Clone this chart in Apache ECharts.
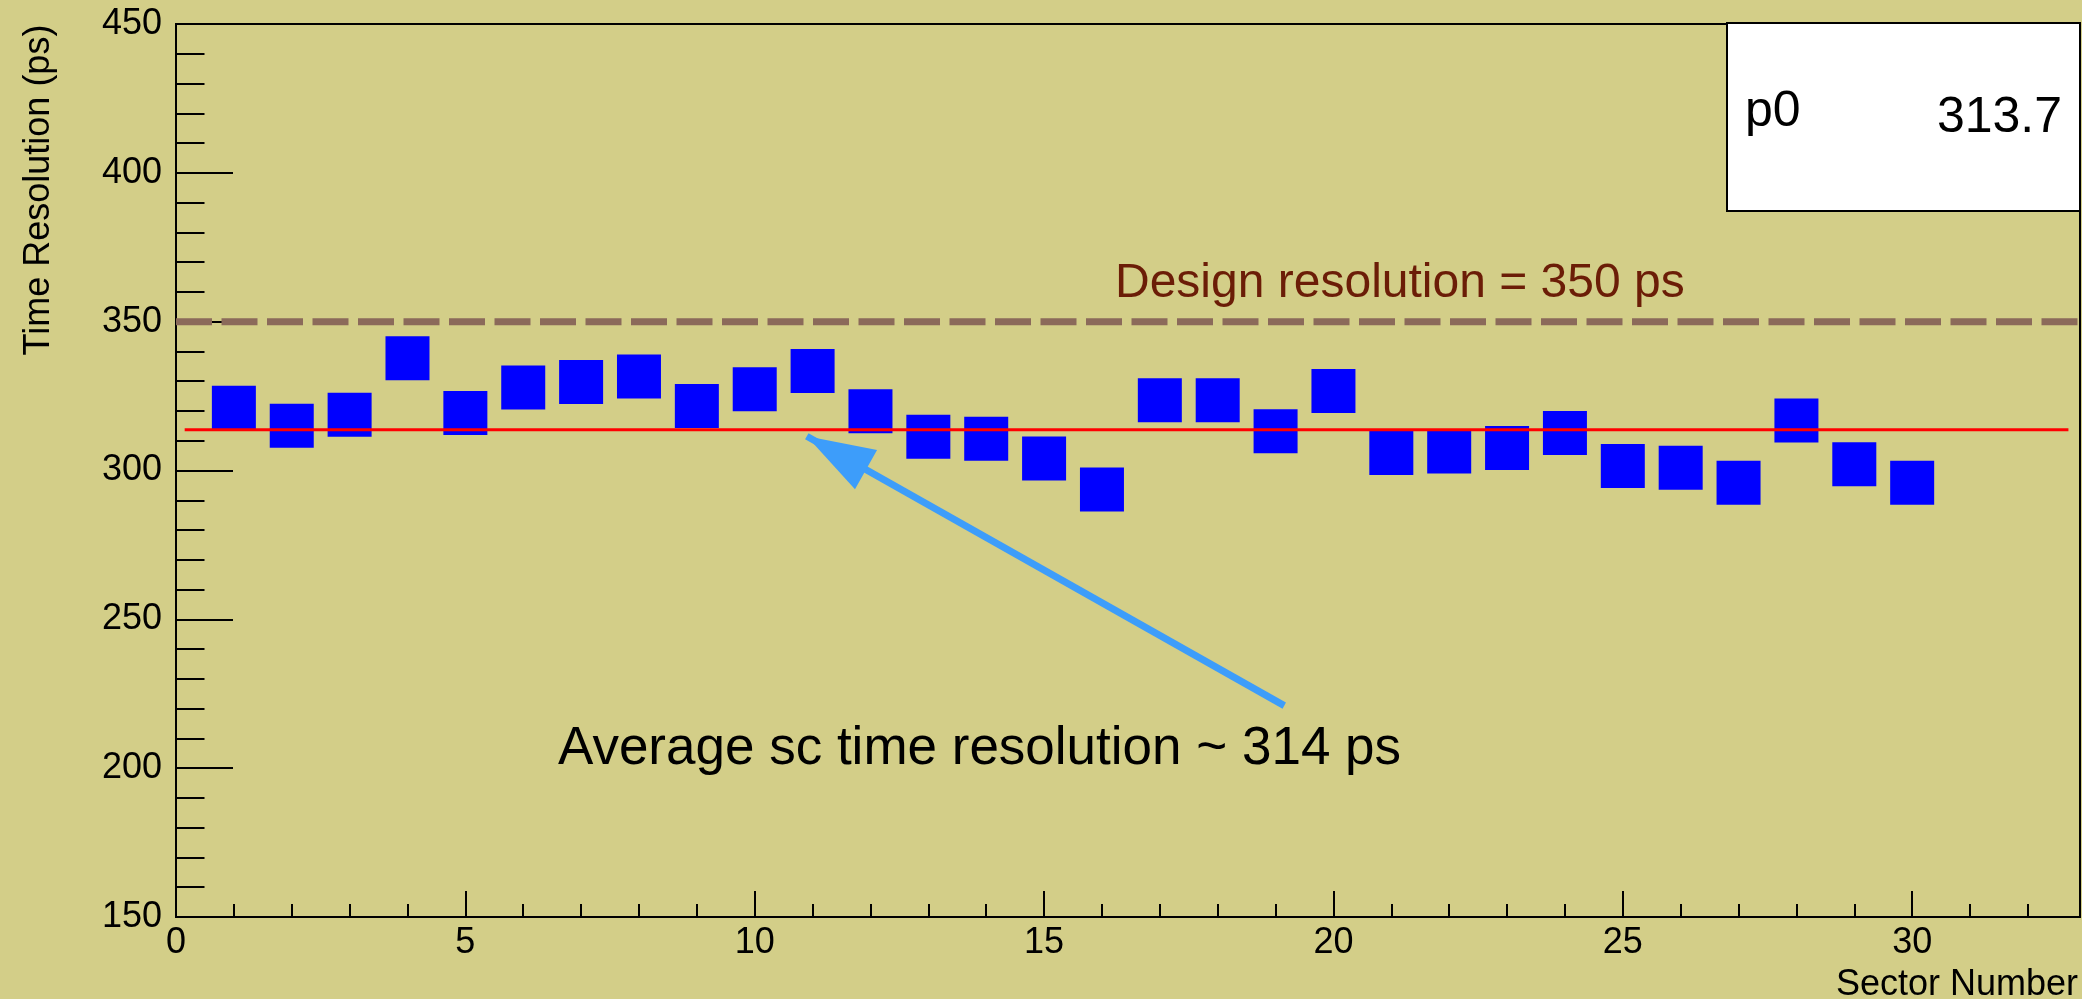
<!DOCTYPE html>
<html>
<head>
<meta charset="utf-8">
<script src="https://cdn.jsdelivr.net/npm/echarts@6/dist/echarts.min.js"></script>
<style>
  html, body { margin: 0; padding: 0; background: #d3ce88; }
  #chart { width: 2082px; height: 999px; }
</style>
</head>
<body>
<div id="chart"></div>
<script>
// ---- data ----
const sectors = [1, 2, 3, 4, 5, 6, 7, 8, 9, 10, 11, 12, 13, 14, 15, 16, 17, 18, 19, 20, 21, 22, 23, 24, 25, 26, 27, 28, 29, 30];
const resolution = [321.1, 315.0, 318.7, 337.7, 319.3, 327.9, 329.7, 331.6, 321.7, 327.3,
                    333.4, 319.9, 311.3, 310.7, 304.0, 293.6, 323.6, 323.6, 313.2, 326.7,
                    305.9, 306.4, 307.6, 312.6, 301.5, 300.9, 295.9, 316.8, 302.1, 295.9];
const fitValue = 313.7;          // p0 of the constant fit
const fitRange = [0.15, 32.7];   // x-range over which the fit line is drawn
const designValue = 350;         // design resolution
const xRange = [0, 32.9];
const yRange = [150, 450];
const arrowTail = [19.15, 221];  // annotation arrow, data coords
const arrowTip = [10.9, 311.5];
const xTitle = 'Sector Number';
const yTitle = 'Time Resolution (ps)';
const designLabel = 'Design resolution = 350 ps';
const averageLabel = 'Average sc time resolution ~ 314 ps';
const statName = 'p0';
const statValue = '313.7';

const FONT = '"Liberation Sans", Arial, Helvetica, sans-serif';
const chart = echarts.init(document.getElementById('chart'), null, { renderer: 'canvas' });

const axisLineStyle = { color: '#000', width: 2 };

chart.setOption({
  animation: false,
  backgroundColor: '#d3ce88',
  grid: {
    left: 176, top: 24, right: 2, bottom: 82,
    show: true, borderColor: '#000', borderWidth: 2, backgroundColor: 'transparent'
  },
  xAxis: [
    {
      type: 'value', position: 'bottom', min: xRange[0], max: xRange[1], interval: 5,
      axisLine: { show: true, onZero: false, lineStyle: axisLineStyle },
      axisTick: { show: true, inside: true, length: 26, lineStyle: axisLineStyle },
      axisLabel: { show: true, fontSize: 36, color: '#000', fontFamily: FONT, margin: 8, showMaxLabel: false },
      splitLine: { show: false }
    },
    {
      type: 'value', position: 'bottom', min: xRange[0], max: xRange[1], interval: 1,
      axisLine: { show: false },
      axisTick: { show: true, inside: true, length: 13, lineStyle: axisLineStyle },
      axisLabel: { show: false },
      splitLine: { show: false }
    }
  ],
  yAxis: {
    type: 'value', min: yRange[0], max: yRange[1], interval: 50,
    axisLine: { show: true, onZero: false, lineStyle: axisLineStyle },
    axisTick: { show: true, inside: true, length: 57, lineStyle: axisLineStyle },
    minorTick: { show: true, splitNumber: 5, length: 28.5, lineStyle: axisLineStyle },
    axisLabel: { fontSize: 36, color: '#000', fontFamily: FONT, margin: 14 },
    splitLine: { show: false }, minorSplitLine: { show: false }
  },
  series: [
    {
      name: 'design', type: 'line', xAxisIndex: 0, z: 2, silent: true,
      data: [[xRange[0], designValue], [xRange[1], designValue]],
      symbol: 'none',
      lineStyle: { color: '#8b6a5a', width: 7, type: [36, 9.5] }
    },
    {
      name: 'sectors', type: 'scatter', xAxisIndex: 0, z: 3, silent: true,
      data: sectors.map((s, i) => [s, resolution[i]]),
      symbol: 'rect', symbolSize: 44,
      itemStyle: { color: '#0000ff', opacity: 1 }
    },
    {
      name: 'fit', type: 'line', xAxisIndex: 0, z: 4, silent: true,
      data: [[fitRange[0], fitValue], [fitRange[1], fitValue]],
      symbol: 'none',
      lineStyle: { color: '#ff0000', width: 3 },
      markLine: {
        silent: true, animation: false,
        symbol: ['none', 'triangle'],
        symbolSize: [45, 68],
        symbolOffset: [[0, 0], [0, 34]],
        label: { show: false },
        lineStyle: { color: '#3d9dfa', width: 7, type: 'solid', opacity: 1 },
        itemStyle: { color: '#3d9dfa', opacity: 1 },
        emphasis: { disabled: true },
        data: [[{ coord: arrowTail }, { coord: arrowTip }]]
      }
    }
  ],
  graphic: [
    {
      type: 'text', x: 39, y: 190, rotation: Math.PI / 2, silent: true,
      style: { text: yTitle, font: '36px ' + FONT, fill: '#000', align: 'center', verticalAlign: 'middle' }
    },
    {
      type: 'text', x: 2078, y: 985, silent: true,
      style: { text: xTitle, font: '36px ' + FONT, fill: '#000', align: 'right', verticalAlign: 'middle' }
    },
    {
      type: 'text', x: 1115, y: 284, silent: true, z: 10,
      style: { text: designLabel, font: '48px ' + FONT, fill: '#6b1d07', align: 'left', verticalAlign: 'middle' }
    },
    {
      type: 'text', x: 558, y: 749, silent: true, z: 10,
      style: { text: averageLabel, font: '53px ' + FONT, fill: '#000', align: 'left', verticalAlign: 'middle' }
    },
    {
      type: 'rect', silent: true, z: 20,
      shape: { x: 1727, y: 23, width: 353, height: 188 },
      style: { fill: '#ffffff', stroke: '#000', lineWidth: 2 }
    },
    {
      type: 'text', x: 1745, y: 112, silent: true, z: 21,
      style: { text: statName, font: '50px ' + FONT, fill: '#000', align: 'left', verticalAlign: 'middle' }
    },
    {
      type: 'text', x: 2062, y: 118, silent: true, z: 21,
      style: { text: statValue, font: '50px ' + FONT, fill: '#000', align: 'right', verticalAlign: 'middle' }
    }
  ]
});
</script>
</body>
</html>
